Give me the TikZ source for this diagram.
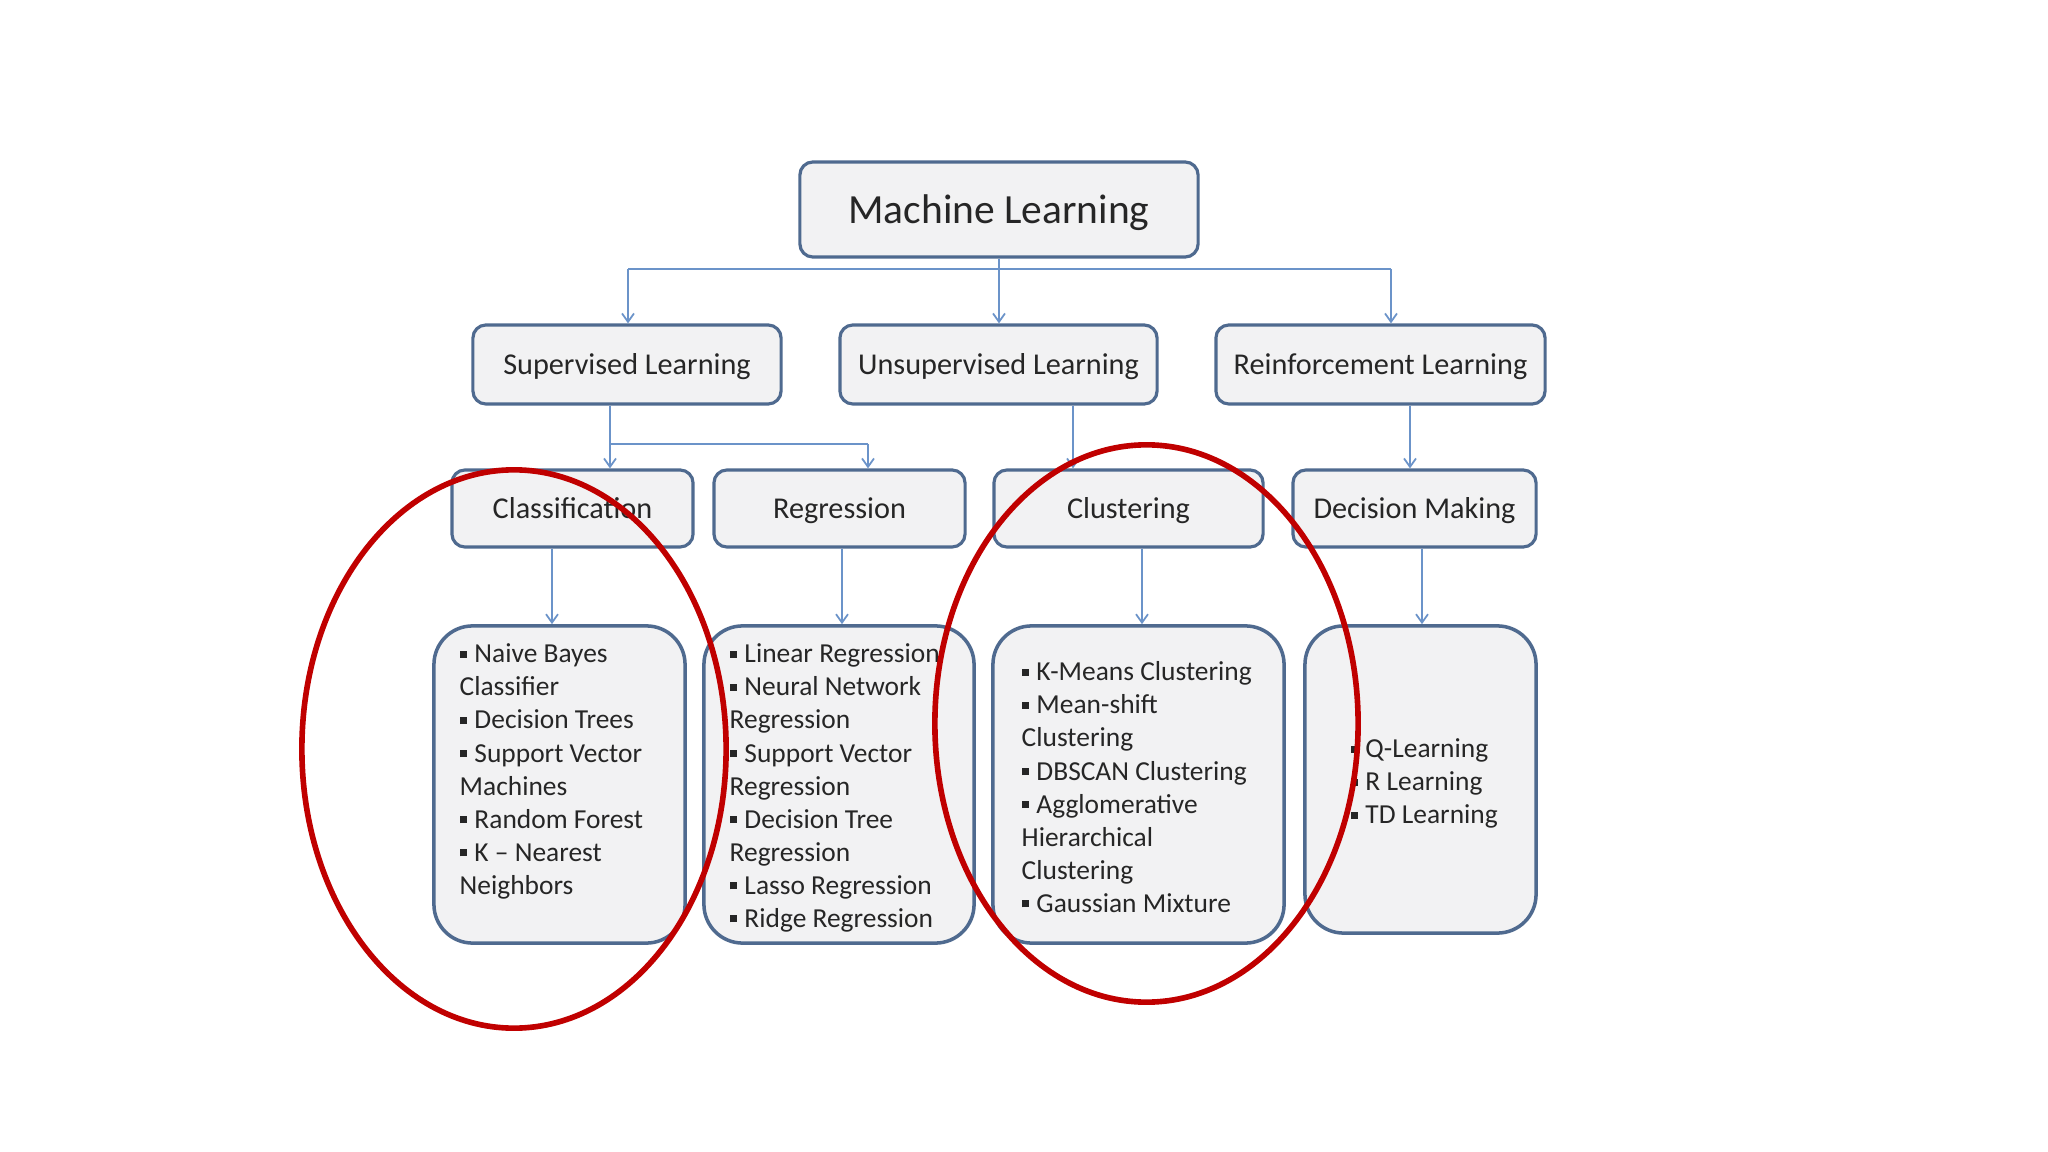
\documentclass[tikz,border=0pt]{standalone}
\usepackage{fontspec}
\setmainfont{Carlito}
\usepackage{tikz}
\usetikzlibrary{arrows.meta,positioning}

\definecolor{boxline}{HTML}{4F6A8F}
\definecolor{boxfill}{HTML}{F2F2F3}
\definecolor{conn}{HTML}{6B93C9}
\definecolor{ringred}{HTML}{C00000}
\definecolor{ink}{HTML}{262626}

\newcommand{\sq}{\rule[1.4pt]{2pt}{2pt}\hspace{2.2pt}}

\begin{document}
\begin{tikzpicture}[x=0.01cm,y=-0.01cm,
                    arr/.style={-{Straight Barb[length=2.4pt,width=3.4pt]},draw=conn,line width=0.5pt},
                    wire/.style={draw=conn,line width=0.5pt}]
  \tikzstyle{every node}=[text=ink]
  \tikzstyle{topbox}=[draw=boxline,fill=boxfill,line width=0.9pt,rounded corners=3.7pt,inner sep=0pt,
                      text depth=0pt,font=\fontsize{8.6}{10}\selectfont]
  \tikzstyle{listbox}=[topbox,line width=1pt,rounded corners=11pt]
  \tikzstyle{items}=[anchor=north west,align=left,inner sep=0pt,font=\fontsize{7.8}{9.4}\selectfont]
  \tikzstyle{ring}=[draw=ringred,line width=1.6pt]

  \fill[white] (0,0) rectangle (2048,1152);
  \useasboundingbox (0,0) rectangle (2048,1152);

  % top
  \node[topbox,minimum width=3.98cm,minimum height=0.95cm,
        font=\fontsize{11.8}{14}\selectfont] (ml) at (999,209.5) {Machine Learning};

  % second row
  \node[topbox,minimum width=3.08cm,minimum height=0.79cm] (sup) at (627,364.5)    {Supervised Learning};
  \node[topbox,minimum width=3.17cm,minimum height=0.79cm] (uns) at (998.5,364.5)  {Unsupervised Learning};
  \node[topbox,minimum width=3.29cm,minimum height=0.79cm] (rein) at (1380.5,364.5) {Reinforcement Learning};

  % third row
  \node[topbox,minimum width=2.41cm,minimum height=0.77cm] (cls) at (572.5,508.5)  {Classification};
  \node[topbox,minimum width=2.51cm,minimum height=0.77cm] (reg) at (839.5,508.5)  {Regression};
  \node[topbox,minimum width=2.69cm,minimum height=0.77cm] (clu) at (1128.5,508.5) {Clustering};
  \node[topbox,minimum width=2.43cm,minimum height=0.77cm] (dec) at (1414.5,508.5) {Decision Making};

  % lists
  \node[listbox,minimum width=2.51cm,minimum height=3.17cm] (clsbox) at (559.5,784.5) {};
  \node[listbox,minimum width=2.70cm,minimum height=3.17cm] (regbox) at (839,784.5) {};
  \node[listbox,minimum width=2.91cm,minimum height=3.17cm] (clubox) at (1138.5,784.5) {};
  \node[listbox,minimum width=2.31cm,minimum height=3.07cm] (decbox) at (1420.5,779.5) {};

  \node[items] (clsitems) at (459,639) {\strut\sq Naive Bayes\\Classifier\\\sq Decision Trees\\
    \sq Support Vector\\Machines\\\sq Random Forest\\\sq K -- Nearest\\Neighbors};
  \node[items] (regitems) at (729,639) {\strut\sq Linear Regression\\\sq Neural Network\\Regression\\
    \sq Support Vector\\Regression\\\sq Decision Tree\\Regression\\\sq Lasso Regression\\\sq Ridge Regression};
  \node[items] (cluitems) at (1021,657) {\strut\sq K-Means Clustering\\\sq Mean-shift\\Clustering\\
    \sq DBSCAN Clustering\\\sq Agglomerative\\Hierarchical\\Clustering\\\sq Gaussian Mixture};
  \node[items] (decitems) at (1350,734) {\strut\sq Q-Learning\\\sq R Learning\\\sq TD Learning};

  % connectors
  \coordinate (mlbus) at (999,269);
  \coordinate (supbus) at (628,269);
  \coordinate (reinbus) at (1391,269);
  \coordinate (clsbus) at (610,444);
  \coordinate (regbus) at (868,444);

  \path[wire] (ml.south) -- (mlbus)
              (supbus) -- (reinbus)
              (clsbus |- sup.south) -- (clsbus) -- (regbus);
  \path (supbus) edge[arr] (supbus |- sup.north)
        (mlbus) edge[arr] (mlbus |- uns.north)
        (reinbus) edge[arr] (reinbus |- rein.north)
        (clsbus) edge[arr] (clsbus |- cls.north)
        (regbus) edge[arr] (regbus |- reg.north)
        (1073,0 |- uns.south) edge[arr] (1073,0 |- clu.north)
        (1410,0 |- rein.south) edge[arr] (1410,0 |- dec.north)
        (552,0 |- cls.south) edge[arr] (552,0 |- clsbox.north)
        (842,0 |- reg.south) edge[arr] (842,0 |- regbox.north)
        (1142,0 |- clu.south) edge[arr] (1142,0 |- clubox.north)
        (1422,0 |- dec.south) edge[arr] (1422,0 |- decbox.north)
  ; %end path

  % highlight rings
  \draw[ring] (514,749) ellipse [x radius=2.12cm, y radius=2.79cm];
  \draw[ring] (1146.5,723.5) ellipse [x radius=2.115cm, y radius=2.785cm];

\end{tikzpicture}
\end{document}
